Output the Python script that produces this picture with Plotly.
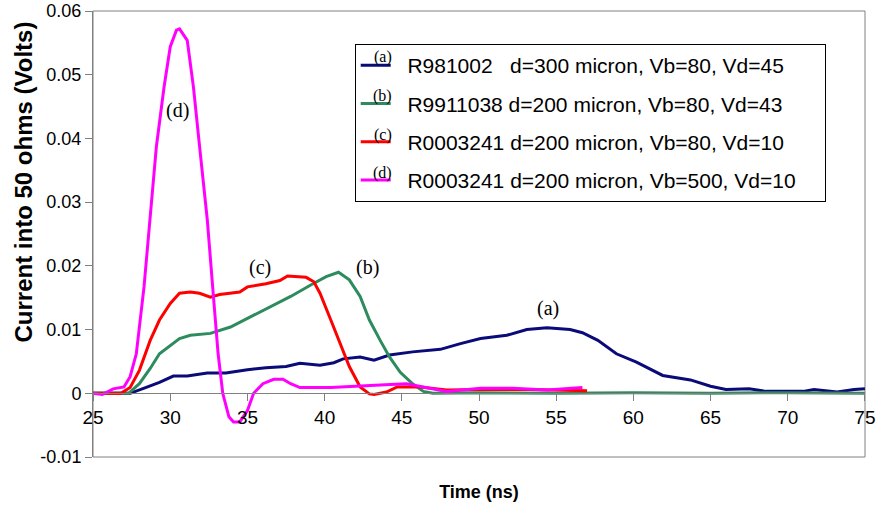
import plotly.graph_objects as go

# ---- data ----
a_t = [25.0, 27.4, 28.4, 29.3, 30.2, 31.1, 32.4, 33.6, 35.0, 36.2, 37.5, 38.4, 39.7, 40.6,
       41.2, 42.3, 43.2, 44.2, 45.7, 47.5, 48.8, 50.1, 51.8, 53.1, 54.4, 55.9, 56.7, 57.7,
       58.9, 60.2, 61.9, 63.7, 65.0, 66.0, 67.5, 68.6, 71.0, 71.7, 73.2, 74.3, 75.0]
a_v = [0.0, 0.0, 0.0009, 0.0017, 0.0027, 0.0027, 0.0032, 0.0032, 0.0037, 0.0040, 0.0042, 0.0047,
       0.0044, 0.0048, 0.0054, 0.0057, 0.0052, 0.0060, 0.0065, 0.0069, 0.0078, 0.0086, 0.0091,
       0.0100, 0.0103, 0.0100, 0.0095, 0.0083, 0.0062, 0.0049, 0.0028, 0.0021, 0.0011, 0.0006,
       0.0007, 0.0003, 0.0003, 0.0006, 0.0002, 0.0006, 0.0007]

b_t = [25.0, 27.3, 28.0, 28.7, 29.3, 30.0, 30.6, 31.3, 32.6, 33.9, 35.2, 36.5, 37.8, 39.1,
       40.1, 40.9, 41.6, 42.3, 42.9, 43.6, 44.2, 44.9, 45.7, 46.4, 47.0, 50.0, 55.0, 60.0,
       65.0, 70.0, 75.0]
b_v = [0.0, 0.0, 0.0015, 0.0039, 0.0062, 0.0075, 0.0086, 0.0091, 0.0094, 0.0104, 0.0120, 0.0136,
       0.0152, 0.0170, 0.0183, 0.0190, 0.0178, 0.0152, 0.0115, 0.0083, 0.0057, 0.0033, 0.0015,
       0.0003, 0.0, 0.0001, 0.0, 0.0001, 0.0, 0.0001, 0.0]

c_t = [25.0, 26.8, 27.4, 28.0, 28.7, 29.3, 30.0, 30.6, 31.3, 31.9, 32.6, 33.2, 34.5, 35.0,
       36.2, 37.1, 37.6, 38.8, 39.3, 39.7, 40.4, 41.0, 41.6, 42.3, 42.9, 43.2, 44.0, 44.7,
       46.2, 47.9, 50.1, 53.3, 57.0]
c_v = [0.0, 0.0, 0.0009, 0.0036, 0.0083, 0.0115, 0.0141, 0.0157, 0.0159, 0.0157, 0.0151, 0.0155,
       0.0159, 0.0167, 0.0172, 0.0177, 0.0184, 0.0182, 0.0175, 0.0157, 0.0115, 0.0078, 0.0042,
       0.0010, -0.0001, -0.0002, 0.0002, 0.0010, 0.0010, 0.0005, 0.0006, 0.0006, 0.0004]

d_t = [25.0, 25.6, 26.3, 27.0, 27.4, 27.8, 28.3, 28.7, 29.1, 29.6, 30.0, 30.4, 30.6, 31.1,
       31.5, 31.9, 32.4, 32.8, 33.1, 33.4, 33.8, 34.1, 34.5, 35.0, 35.4, 36.0, 36.7, 37.3,
       37.8, 38.4, 40.4, 43.6, 45.3, 46.8, 47.9, 50.1, 52.2, 54.4, 56.7]
d_v = [0.0, -0.0002, 0.0007, 0.0010, 0.0026, 0.0062, 0.0167, 0.0272, 0.0387, 0.0481, 0.0544,
       0.0570, 0.0572, 0.0554, 0.0481, 0.0387, 0.0272, 0.0151, 0.0062, 0.0, -0.0037, -0.0045,
       -0.0045, -0.0027, 0.0, 0.0015, 0.0022, 0.0022, 0.0015, 0.0009, 0.0009, 0.0013, 0.0015,
       0.0008, 0.0003, 0.0008, 0.0008, 0.0005, 0.0009]

names = ["R981002   d=300 micron, Vb=80, Vd=45",
         "R9911038 d=200 micron, Vb=80, Vd=43",
         "R0003241 d=200 micron, Vb=80, Vd=10",
         "R0003241 d=200 micron, Vb=500, Vd=10"]
tags = ["(a)", "(b)", "(c)", "(d)"]
colors = ["#0a0a78", "#2e8b5e", "#ff0000", "#ff00ff"]

x_ticks = [25, 30, 35, 40, 45, 50, 55, 60, 65, 70, 75]
y_tickvals = [-0.01, 0.0, 0.01, 0.02, 0.03, 0.04, 0.05, 0.06]
y_ticktext = ["-0.01", "0", "0.01", "0.02", "0.03", "0.04", "0.05", "0.06"]

# curve label positions (data coords)
lab_x = [54.5, 42.75, 35.8, 30.5]
lab_y = [0.0133, 0.0198, 0.0198, 0.0444]

series = [(a_t, a_v), (b_t, b_v), (c_t, c_v), (d_t, d_v)]

fig = go.Figure()
for i, (t, v) in enumerate(series):
    fig.add_trace(go.Scatter(x=t, y=v, mode="lines",
                             name="\u00a0\u00a0" + names[i] + "\u00a0\u00a0\u00a0\u00a0",
                             legendgroup=tags[i],
                             line=dict(color=colors[i], width=3)))

sans = "Liberation Sans, Arial, sans-serif"
serif = "Liberation Serif, Times New Roman, serif"

annotations = []
for i in range(4):
    annotations.append(dict(x=lab_x[i], y=lab_y[i], xref="x", yref="y", text=tags[i],
                            showarrow=False, font=dict(family=serif, size=20, color="black")))

# small tags above the legend line samples
leg_tag_y = [0.897, 0.810, 0.723, 0.636]
for i in range(4):
    annotations.append(dict(x=0.375, y=leg_tag_y[i], xref="paper", yref="paper", text=tags[i],
                            showarrow=False, xanchor="center", yanchor="middle",
                            font=dict(family=serif, size=16, color="black")))

annotations.append(dict(x=-0.09, y=0.6166, xref="paper", yref="paper",
                        text="<b>Current into 50 ohms (Volts)</b>", textangle=-90,
                        showarrow=False, xanchor="center", yanchor="middle",
                        font=dict(family=sans, size=24, color="black")))

fig.update_layout(
    width=876, height=506,
    margin=dict(l=93, r=11, t=11, b=49),
    paper_bgcolor="white", plot_bgcolor="white",
    showlegend=True,
    legend=dict(x=0.339, y=0.926, xanchor="left", yanchor="top",
                bgcolor="white", bordercolor="black", borderwidth=1,
                tracegroupgap=8,
                font=dict(family=sans, size=21, color="black")),
    annotations=annotations,
    xaxis=dict(range=[24.995, 75.005], tickvals=x_ticks, anchor="free", position=1/7,
               automargin=False,
               showline=True, linecolor="#808080", linewidth=1,
               ticks="outside", ticklen=7, tickcolor="#808080",
               showgrid=False, zeroline=False,
               tickfont=dict(family=sans, size=19, color="black"),
               title=dict(text="<b>Time (ns)</b>", standoff=58,
                          font=dict(family=sans, size=18, color="black"))),
    yaxis=dict(range=[-0.01, 0.06], tickvals=y_tickvals, ticktext=y_ticktext,
               automargin=False,
               showline=True, linecolor="#808080", linewidth=1,
               ticks="outside", ticklen=7, tickcolor="#808080",
               showgrid=False, zeroline=False,
               tickfont=dict(family=sans, size=18, color="black")),
    shapes=[dict(type="rect", xref="paper", yref="paper", x0=0, x1=1, y0=0, y1=1,
                 line=dict(color="#808080", width=1), layer="below")],
)

fig.write_html("out.html")
